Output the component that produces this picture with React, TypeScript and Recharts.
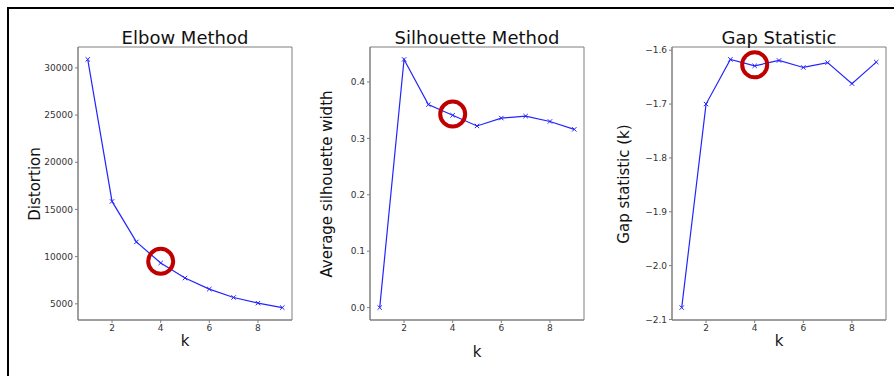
import { LineChart, Line, XAxis, YAxis, ReferenceDot, ReferenceArea } from "recharts";

const K = [1, 2, 3, 4, 5, 6, 7, 8, 9];
const DISTORTION = [30900, 15850, 11560, 9330, 7730, 6560, 5670, 5070, 4600];
const SILHOUETTE = [0.0, 0.440, 0.360, 0.341, 0.322, 0.336, 0.3395, 0.330, 0.316];
const GAP = [-2.078, -1.700, -1.617, -1.629, -1.619, -1.632, -1.623, -1.662, -1.622];

const X_TICKS = [2, 4, 6, 8];
const DIST_TICKS = [5000, 10000, 15000, 20000, 25000, 30000];
const SIL_TICKS = [0, 0.1, 0.2, 0.3, 0.4];
const GAP_TICKS = [-2.1, -2.0, -1.9, -1.8, -1.7, -1.6];

// optimum k, circled in red on each panel
const BEST_K = 4;
const MARK_DIST = 9500;
const MARK_SIL = 0.343;
const MARK_GAP = -1.627;

const X_DOMAIN: [number, number] = [0.6, 9.4];

const FONT = "DejaVu Sans, Verdana, sans-serif";
const BLUE = "#2424ff";
const RED = "#c00000";
const SPINE = "#7f7f7f";

const minus = (s: string) => s.replace("-", "\u2212");

function XMark(props: any) {
  const { cx, cy } = props;
  if (cx == null || cy == null) return null;
  const s = 2.2;
  return (
    <g stroke={BLUE} strokeWidth={1}>
      <line x1={cx - s} y1={cy - s} x2={cx + s} y2={cy + s} />
      <line x1={cx - s} y1={cy + s} x2={cx + s} y2={cy - s} />
    </g>
  );
}

interface PanelProps {
  left: number;
  values: number[];
  domain: [number, number];
  ticks: number[];
  fmt: (v: number) => string;
  mark: number;
}

function Panel({ left, values, domain, ticks, fmt, mark }: PanelProps) {
  const data = K.map((k, i) => ({ k, v: values[i] }));
  const tickStyle = { fontSize: 9, fill: "#333", fontFamily: FONT };
  return (
    <div style={{ position: "absolute", left: left - 60, top: 0 }}>
      <LineChart width={284} height={376} data={data} margin={{ top: 47, right: 10, left: 10, bottom: 31 }}>
        <XAxis
          dataKey="k" type="number" domain={X_DOMAIN} ticks={X_TICKS}
          allowDataOverflow height={25} tickSize={3}
          stroke={SPINE} tick={tickStyle}
        />
        <YAxis
          type="number" domain={domain} ticks={ticks} allowDataOverflow
          width={50} tickSize={3} stroke={SPINE} tick={tickStyle}
          tickFormatter={fmt} interval={0}
        />
        {/* plot frame (matplotlib spines) */}
        <ReferenceArea
          x1={X_DOMAIN[0]} x2={X_DOMAIN[1]} y1={domain[0]} y2={domain[1]}
          fill="none" stroke={SPINE} strokeWidth={1} fillOpacity={0}
        />
        <Line
          dataKey="v" stroke={BLUE} strokeWidth={1.2} dot={<XMark />}
          activeDot={false} isAnimationActive={false}
        />
        <ReferenceDot x={BEST_K} y={mark} r={12.5} fill="none" stroke={RED} strokeWidth={4} />
      </LineChart>
    </div>
  );
}

export default function App() {
  const title = { fontSize: 18, fill: "#111", fontFamily: FONT, textAnchor: "middle" as const };
  const lab = { fontSize: 15, fill: "#111", fontFamily: FONT, textAnchor: "middle" as const };
  return (
    <div style={{ position: "absolute", left: 0, top: 0, width: 894, height: 376, background: "#fff", overflow: "hidden" }}>
      <div style={{ position: "absolute", left: 7, top: 7, width: 900, height: 400, borderTop: "2px solid #000", borderLeft: "2px solid #000" }} />
      <Panel left={78} values={DISTORTION} domain={[3285, 32215]} ticks={DIST_TICKS} fmt={v => String(v)} mark={MARK_DIST} />
      <Panel left={370} values={SILHOUETTE} domain={[-0.022, 0.462]} ticks={SIL_TICKS} fmt={v => v.toFixed(1)} mark={MARK_SIL} />
      <Panel left={672} values={GAP} domain={[-2.101, -1.594]} ticks={GAP_TICKS} fmt={v => minus(v.toFixed(1))} mark={MARK_GAP} />
      <svg width={894} height={376} style={{ position: "absolute", left: 0, top: 0, pointerEvents: "none" }}>
        <text x={185} y={44} {...title}>Elbow Method</text>
        <text x={477} y={44} {...title}>Silhouette Method</text>
        <text x={779} y={44} {...title}>Gap Statistic</text>
        <text x={185} y={346} {...lab}>k</text>
        <text x={477} y={357} {...lab}>k</text>
        <text x={779} y={346} {...lab}>k</text>
        <text transform="translate(40,184) rotate(-90)" {...lab}>Distortion</text>
        <text transform="translate(332,184) rotate(-90)" {...lab}>Average silhouette width</text>
        <text transform="translate(629,184) rotate(-90)" {...lab}>Gap statistic (k)</text>
      </svg>
    </div>
  );
}
